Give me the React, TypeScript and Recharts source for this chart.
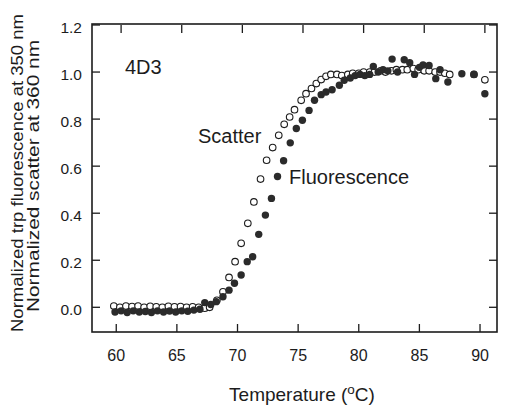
import { ScatterChart, Scatter, XAxis, YAxis } from "recharts";

// Light scatter (open circles): temperature (°C) and normalized signal
const scatterTemp = [
  59.8, 60.3, 60.8, 61.3, 61.8, 62.3, 62.8, 63.3, 63.8, 64.3, 64.8, 65.3, 65.8, 66.3, 66.8,
  67.3, 67.7, 68.3, 68.8, 69.3, 69.8, 70.3, 70.85, 71.35, 71.9, 72.4, 72.9, 73.4, 73.85, 74.3,
  74.7, 75.25, 75.65, 76.1, 76.5, 76.9, 77.3, 77.7, 78.2, 78.6, 79.1, 79.5, 80.0, 80.4, 80.9,
  81.3, 81.8, 82.2, 82.7, 83.1, 83.6, 84.0, 84.5, 84.9, 85.4, 85.8, 86.3, 86.7, 87.1, 87.5,
  89.5, 90.4,
];
const scatterSignal = [
  0.005, 0.0, 0.005, 0.003, 0.005, 0.0, 0.004, 0.002, 0.0, 0.004, 0.002, 0.003, 0.0, 0.002, 0.0,
  -0.004, 0.0, 0.03, 0.066, 0.127, 0.194, 0.272, 0.357, 0.448, 0.545, 0.625, 0.679, 0.731, 0.778, 0.809,
  0.84, 0.88, 0.908, 0.93, 0.951, 0.968, 0.982, 0.99, 0.99, 0.985, 0.99, 0.995, 0.995, 1.0, 1.0,
  1.0, 1.005, 1.0, 1.005, 1.01, 1.01, 1.01, 1.015, 1.01, 1.005, 1.005, 1.0, 1.0, 0.995, 0.99,
  0.99, 0.967,
];

// Trp fluorescence (filled circles)
const fluorTemp = [
  59.9, 60.4, 60.9, 61.4, 61.9, 62.4, 62.9, 63.4, 63.9, 64.4, 64.9, 65.4, 65.9, 66.4, 66.9,
  67.3, 67.8, 68.25, 68.8, 69.3, 69.75, 70.3, 70.8, 71.25, 71.75, 72.3, 72.8, 73.3, 73.8, 74.35,
  74.85, 75.35, 75.9, 76.35, 76.9, 77.3, 77.8, 78.4, 78.8, 79.3, 79.7, 80.1, 80.5, 80.9, 81.2,
  81.6, 82.0, 82.4, 82.75, 83.2, 83.75, 84.2, 84.6, 85.0, 85.3, 85.8, 86.35, 86.7, 87.35, 88.5,
  89.5, 90.4,
];
const fluorSignal = [
  -0.02, -0.015, -0.022, -0.015, -0.02, -0.018, -0.022, -0.015, -0.02, -0.016, -0.02, -0.015, -0.017, -0.012, -0.008,
  0.02, 0.012, 0.024, 0.045, 0.073, 0.102, 0.137, 0.194, 0.215, 0.31, 0.392, 0.463, 0.556, 0.623, 0.699,
  0.76, 0.795, 0.837, 0.88, 0.904, 0.915, 0.925, 0.944, 0.965, 0.975, 0.985, 0.99, 0.985, 0.99, 1.024,
  1.0, 1.01, 1.005, 1.055, 1.0, 1.052, 1.04, 0.99, 1.02, 1.03, 1.028, 0.972, 1.01, 0.958, 0.993,
  0.99, 0.908,
];

const xTicks = [60, 65, 70, 75, 80, 85, 90];
const yTicks = [0, 0.2, 0.4, 0.6, 0.8, 1.0, 1.2];

const scatterPts = scatterTemp.map((t, i) => ({ t, v: scatterSignal[i] }));
const fluorPts = fluorTemp.map((t, i) => ({ t, v: fluorSignal[i] }));

const INK = "#1c1c1c";
const FONT = "'Liberation Sans', Arial, Helvetica, sans-serif";
const X_DOMAIN: [number, number] = [58, 91.4];
const Y_DOMAIN: [number, number] = [-0.105, 1.2];
const TICK_LEN = 8;

// layout
const W = 508;
const H = 408;
const MARGIN = { top: 24, right: 10, bottom: 46, left: 0 };
const Y_AXIS_W = 92;
const X_AXIS_H = 30;
const R_AXIS_W = 1;
const PLOT = {
  x: MARGIN.left + Y_AXIS_W,
  y: MARGIN.top,
  w: W - MARGIN.left - MARGIN.right - Y_AXIS_W - R_AXIS_W,
  h: H - MARGIN.top - MARGIN.bottom - X_AXIS_H,
};

function OpenDot(p: any) {
  return <circle cx={p.cx} cy={p.cy} r={3.3} fill="#fff" stroke={INK} strokeWidth={1.1} />;
}

function FilledDot(p: any) {
  return <circle cx={p.cx} cy={p.cy} r={3.7} fill="#2b2b2b" />;
}

// Tick renderers: with tickSize/tickMargin 0 the (x, y) handed in sits on the axis line,
// so each one draws an inward mark and, on bottom/left, the value label.
function BottomTick({ x, y, payload }: any) {
  return (
    <g>
      <line x1={x} x2={x} y1={y} y2={y - TICK_LEN} stroke={INK} strokeWidth={1.3} />
      <text x={x} y={y + 28.5} textAnchor="middle" fontSize={16} fontFamily={FONT} fill={INK}>
        {payload.value}
      </text>
    </g>
  );
}

function LeftTick({ x, y, payload }: any) {
  return (
    <g>
      <line x1={x} x2={x + TICK_LEN} y1={y} y2={y} stroke={INK} strokeWidth={1.3} />
      <text x={x - 10} y={y + 7.5} textAnchor="end" fontSize={15.5} fontFamily={FONT} fill={INK}>
        {payload.value.toFixed(1)}
      </text>
    </g>
  );
}

function TopTick({ x, y }: any) {
  return <line x1={x} x2={x} y1={y} y2={y + TICK_LEN} stroke={INK} strokeWidth={1.3} />;
}

function RightTick({ x, y }: any) {
  return <line x1={x} x2={x - TICK_LEN} y1={y} y2={y} stroke={INK} strokeWidth={1.3} />;
}

export default function App() {
  return (
    <div style={{ position: "absolute", left: 0, top: 0, width: W, height: H, background: "#fff" }}>
      <ScatterChart width={W} height={H} margin={MARGIN}>
        <XAxis
          xAxisId="b" type="number" dataKey="t" domain={X_DOMAIN} ticks={xTicks}
          tickSize={0} tickMargin={0} tickLine={false} height={X_AXIS_H} axisLine={false} tick={BottomTick}
        />
        <XAxis
          xAxisId="t" orientation="top" type="number" dataKey="t" domain={[57.6, 91.0]} ticks={xTicks}
          allowDataOverflow tickSize={0} tickMargin={0} tickLine={false} height={1} axisLine={false} tick={TopTick}
        />
        <YAxis
          yAxisId="l" type="number" dataKey="v" domain={Y_DOMAIN} ticks={yTicks}
          tickSize={0} tickMargin={0} tickLine={false} width={Y_AXIS_W} axisLine={false} tick={LeftTick}
        />
        <YAxis
          yAxisId="r" orientation="right" type="number" dataKey="v" domain={Y_DOMAIN} ticks={yTicks}
          allowDataOverflow tickSize={0} tickMargin={0} tickLine={false} width={R_AXIS_W} axisLine={false} tick={RightTick}
        />
        <Scatter xAxisId="b" yAxisId="l" data={scatterPts} shape={OpenDot} isAnimationActive={false} />
        <Scatter xAxisId="b" yAxisId="l" data={fluorPts} shape={FilledDot} isAnimationActive={false} />
      </ScatterChart>
      <svg
        width={W} height={H}
        style={{ position: "absolute", left: 0, top: 0, pointerEvents: "none" }}
        fontFamily={FONT} fill={INK}
      >
        {/* box around the plot area */}
        <rect x={PLOT.x} y={PLOT.y} width={PLOT.w} height={PLOT.h} fill="none" stroke={INK} strokeWidth={1.6} />
        <text x={125} y={74} fontSize={20}>4D3</text>
        <text x={198} y={142.5} fontSize={20}>Scatter</text>
        <text x={289} y={184} fontSize={20}>Fluorescence</text>
        <text x={302} y={401} textAnchor="middle" fontSize={19}>
          Temperature (<tspan dy={-7} fontSize={13.5}>o</tspan><tspan dy={7}>C)</tspan>
        </text>
        <text
          transform="translate(23,173) rotate(-90)" textAnchor="middle" fontSize={16}
          textLength={318} lengthAdjust="spacingAndGlyphs"
        >
          Normalized trp fluorescence at 350 nm
        </text>
        <text
          transform="translate(39,176) rotate(-90)" textAnchor="middle" fontSize={16}
          textLength={272} lengthAdjust="spacingAndGlyphs"
        >
          Normalized scatter at 360 nm
        </text>
      </svg>
    </div>
  );
}
